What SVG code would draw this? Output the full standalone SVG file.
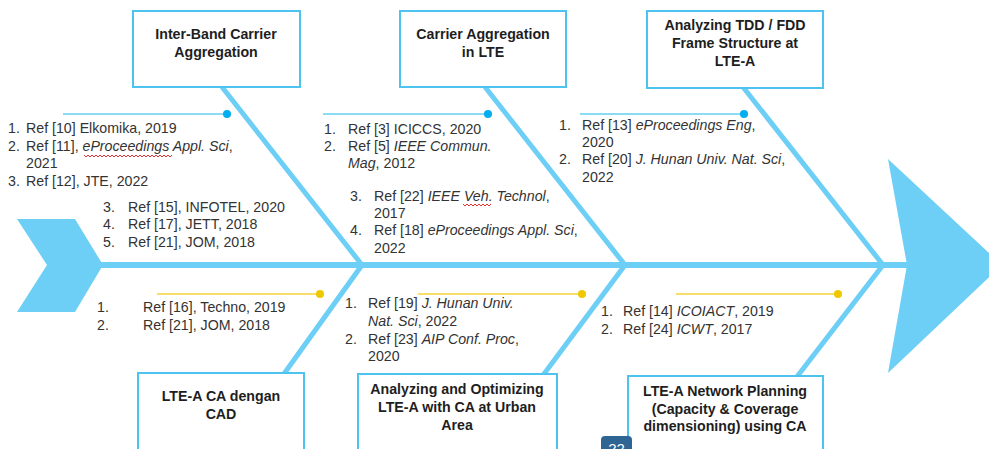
<svg xmlns="http://www.w3.org/2000/svg" width="989" height="449" viewBox="0 0 989 449">
<style>
.bone{fill:none;stroke:#6DCFF6;stroke-width:5;stroke-linejoin:miter}
.box rect{fill:#fff;stroke:#4DC3F0;stroke-width:2}
.box text{font-family:"Liberation Sans",Arial,sans-serif;font-size:14.2px;font-weight:bold;fill:#1e1e1e;text-anchor:middle}
.ref{font-family:"Liberation Sans",Arial,sans-serif;font-size:14.2px;fill:#333}
.it{font-style:italic}
.bl{stroke:#8ADCF5;stroke-width:2}
.yl{stroke:#F7DD6A;stroke-width:2}
.bd{fill:#00AEEF}
.yd{fill:#F0C800}
.sq{fill:none;stroke:#E03030;stroke-width:1}
</style>
<rect width="989" height="449" fill="#fff"/>
<g id="tail"><polygon points="17,219 75,219 103,265 75,312 17,312 47,265" fill="#6DCFF6"/></g>
<g id="head"><polygon points="888,159 1002,265 888,373 907,265" fill="#6DCFF6"/></g>
<g id="connectors">
<line x1="100" y1="265" x2="908" y2="265" stroke="#6DCFF6" stroke-width="6"/>
<polyline class="bone" points="222,87 362,265 281,378"/>
<polyline class="bone" points="485,87 625,265 541,378"/>
<polyline class="bone" points="743,87 883,265 796,378"/>
<line class="bl" x1="63" y1="114" x2="227" y2="114"/><circle class="bd" cx="227" cy="114" r="4"/>
<line class="bl" x1="323" y1="114" x2="488" y2="114"/><circle class="bd" cx="488" cy="114" r="4"/>
<line class="bl" x1="580" y1="114" x2="744" y2="114"/><circle class="bd" cx="744" cy="114" r="4"/>
<line class="yl" x1="157" y1="294" x2="320" y2="294"/><circle class="yd" cx="320" cy="294" r="4"/>
<line class="yl" x1="418" y1="294" x2="582" y2="294"/><circle class="yd" cx="582" cy="294" r="4"/>
<line class="yl" x1="676" y1="294" x2="838" y2="294"/><circle class="yd" cx="838" cy="294" r="4"/>
</g>
<g id="box1" class="box"><rect x="133" y="11" width="167" height="76"/><text x="216" y="39">Inter-Band Carrier</text><text x="216" y="57">Aggregation</text></g>
<g id="box2" class="box"><rect x="400" y="11" width="166" height="76"/><text x="483" y="39">Carrier Aggregation</text><text x="483" y="57">in LTE</text></g>
<g id="box3" class="box"><rect x="647" y="11" width="176" height="77"/><text x="735" y="30">Analyzing TDD / FDD</text><text x="735" y="48">Frame Structure at</text><text x="735" y="66">LTE-A</text></g>
<g id="box4" class="box"><rect x="138" y="373" width="166" height="90"/><text x="221" y="401">LTE-A CA dengan</text><text x="221" y="419">CAD</text></g>
<g id="box5" class="box"><rect x="358" y="374" width="199" height="90"/><text x="457" y="394">Analyzing and Optimizing</text><text x="457" y="412">LTE-A with CA at Urban</text><text x="457" y="430">Area</text></g>
<g id="box6" class="box"><rect x="628" y="376" width="195" height="90"/><text x="725" y="396">LTE-A Network Planning</text><text x="725" y="414">(Capacity &amp; Coverage</text><text x="725" y="431">dimensioning) using CA</text></g>
<g id="refs1" class="ref">
<text x="8" y="133">1.</text><text x="26" y="133">Ref [10] Elkomika, 2019</text>
<text x="8" y="151">2.</text><text x="26" y="151">Ref [11], <tspan class="it">eProceedings Appl. Sci</tspan>,</text>
<text x="26" y="168">2021</text>
<text x="8" y="186">3.</text><text x="26" y="186">Ref [12], JTE, 2022</text>
<polyline class="sq" points="84,155 86,157 88,155 90,157 92,155 94,157 96,155 98,157 100,155 102,157 104,155 106,157 108,155 110,157 112,155 114,157 116,155 118,157 120,155 122,157 124,155 126,157 128,155 130,157 132,155 134,157 136,155 138,157 140,155 142,157 144,155 146,157 148,155 150,157 152,155 154,157 156,155 158,157 160,155 162,157 164,155 166,157 168,155 170,157 172,155"/>
</g>
<g id="refs1b" class="ref">
<text x="103" y="212">3.</text><text x="128" y="212">Ref [15], INFOTEL, 2020</text>
<text x="103" y="229">4.</text><text x="128" y="229">Ref [17], JETT, 2018</text>
<text x="103" y="247">5.</text><text x="128" y="247">Ref [21], JOM, 2018</text>
</g>
<g id="refs2" class="ref">
<text x="324" y="134">1.</text><text x="348" y="134">Ref [3] ICICCS, 2020</text>
<text x="324" y="151">2.</text><text x="348" y="151">Ref [5] <tspan class="it">IEEE Commun.</tspan></text>
<text x="348" y="168"><tspan class="it">Mag</tspan>, 2012</text>
<text x="350" y="201">3.</text><text x="374" y="201">Ref [22] <tspan class="it">IEEE Veh. Technol</tspan>,</text>
<text x="374" y="218">2017</text>
<text x="350" y="235">4.</text><text x="374" y="235">Ref [18] <tspan class="it">eProceedings Appl. Sci</tspan>,</text>
<text x="374" y="253">2022</text>
<polyline class="sq" points="463,204 465,206 467,204 469,206 471,204 473,206 475,204 477,206 479,204 481,206 483,204 485,206 487,204 489,206 491,204"/>
</g>
<g id="refs3" class="ref">
<text x="559" y="130">1.</text><text x="582" y="130">Ref [13] <tspan class="it">eProceedings Eng</tspan>,</text>
<text x="582" y="147">2020</text>
<text x="559" y="164">2.</text><text x="582" y="164">Ref [20] <tspan class="it">J. Hunan Univ. Nat. Sci</tspan>,</text>
<text x="582" y="182">2022</text>
</g>
<g id="refs4" class="ref">
<text x="97" y="312">1.</text><text x="143" y="312">Ref [16], Techno, 2019</text>
<text x="97" y="330">2.</text><text x="143" y="330">Ref [21], JOM, 2018</text>
</g>
<g id="refs5" class="ref">
<text x="345" y="308">1.</text><text x="368" y="308">Ref [19] <tspan class="it">J. Hunan Univ.</tspan></text>
<text x="368" y="326"><tspan class="it">Nat. Sci</tspan>, 2022</text>
<text x="345" y="344">2.</text><text x="368" y="344">Ref [23] <tspan class="it">AIP Conf. Proc</tspan>,</text>
<text x="368" y="361">2020</text>
</g>
<g id="refs6" class="ref">
<text x="601" y="316">1.</text><text x="623" y="316">Ref [14] <tspan class="it">ICOIACT</tspan>, 2019</text>
<text x="601" y="334">2.</text><text x="623" y="334">Ref [24] <tspan class="it">ICWT</tspan>, 2017</text>
</g>
<g id="badge"><rect x="601" y="436" width="31" height="22" rx="4" fill="#2F6593"/><text x="616.5" y="454" font-family="Liberation Sans,Arial,sans-serif" font-size="15" fill="#fff" text-anchor="middle">22</text></g>
</svg>
